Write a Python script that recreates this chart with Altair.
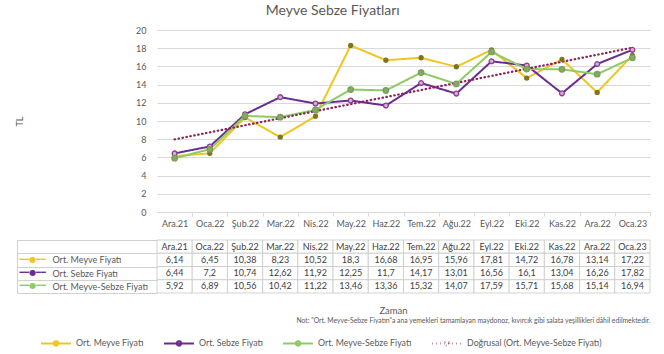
import json
import altair as alt
import pandas as pd

# ---------------- data ----------------
months = ["Ara.21", "Oca.22", "Şub.22", "Mar.22", "Nis.22", "May.22", "Haz.22",
          "Tem.22", "Ağu.22", "Eyl.22", "Eki.22", "Kas.22", "Ara.22", "Oca.23"]
series_names = ["Ort. Meyve Fiyatı", "Ort. Sebze Fiyatı", "Ort. Meyve-Sebze Fiyatı"]
trend_name = "Doğrusal (Ort. Meyve-Sebze Fiyatı)"
meyve = [6.14, 6.45, 10.38, 8.23, 10.52, 18.3, 16.68, 16.95, 15.96, 17.81, 14.72, 16.78, 13.14, 17.22]
sebze = [6.44, 7.2, 10.74, 12.62, 11.92, 12.25, 11.7, 14.17, 13.01, 16.56, 16.1, 13.04, 16.26, 17.82]
meyve_sebze = [5.92, 6.89, 10.56, 10.42, 11.22, 13.46, 13.36, 15.32, 14.07, 17.59, 15.71, 15.68, 15.14, 16.94]
y_ticks = list(range(0, 21, 2))

title_text = "Meyve Sebze Fiyatları"
x_title = "Zaman"
y_title = "TL"
note_text = ('Not: "Ort. Meyve-Sebze Fiyatın"a ana yemekleri tamamlayan maydonoz, '
             'kıvırcık gibi salata yeşillikleri dâhil edilmektedir.')

# ---------------- styles ----------------
FONT = "Lato"
TXT = "#595959"
line_colors = ["#F0C61E", "#6A2C91", "#8DCB63"]
trend_color = "#8E2157"
marker_fill = ["#7F7420", "#D9AEDA", "#86A868"]
marker_stroke = ["#7F7420", "#8A3F8F", "#78A058"]
marker_size = [16, 30, 16]
PLOT_W = 493
HALF_BAND = PLOT_W / len(months) / 2

rows = []
for s, vals in zip(series_names, [meyve, sebze, meyve_sebze]):
    for i, v in enumerate(vals):
        rows.append({"series": s, "idx": i, "value": v,
                     "text": f"{v:g}".replace(".", ",")})
df = pd.DataFrame(rows)

hdr = pd.DataFrame({"series": "hdr", "idx": list(range(len(months))), "text": months})
table_df = pd.concat([hdr, df[["series", "idx", "text"]]], ignore_index=True)
row_domain = ["hdr"] + series_names

all_series = series_names + [trend_name]
x_scale = alt.Scale(domain=[-0.5, len(months) - 0.5], nice=False, zero=False)
y_scale = alt.Scale(domain=[0, 20], nice=False)
color_scale = alt.Scale(domain=all_series, range=line_colors + [trend_color])
dash_scale = alt.Scale(domain=all_series, range=[[1, 0], [1, 0], [1, 0], [0.5, 3.5]])

sym_path = "M-1,0L1,0M0.15,0A0.15,0.15,0,1,1,-0.15,0A0.15,0.15,0,1,1,0.15,0"
legend = alt.Legend(title=None, orient="none", direction="horizontal",
                    legendX=-117, legendY=297, symbolType=sym_path, symbolSize=900,
                    symbolStrokeWidth=2, labelFontSize=8.8, labelColor=TXT,
                    labelFont=FONT, columnPadding=16, labelOffset=4)

x_axis = alt.Axis(values=list(range(len(months))),
                  labelExpr=json.dumps(months, ensure_ascii=False) + "[datum.value]",
                  grid=False, ticks=True, tickSize=4, tickColor="#D9D9D9",
                  tickOffset=HALF_BAND, labelOffset=-HALF_BAND,
                  domainColor="#D9D9D9", labelFontSize=9,
                  labelColor=TXT, labelFont=FONT, labelPadding=3, title=None,
                  labelAngle=0, labelOverlap=False, labelFlush=False)
y_axis = alt.Axis(values=y_ticks, grid=True, gridColor="#D9D9D9", domain=False,
                  ticks=False, labelPadding=11, labelFontSize=9, labelColor=TXT,
                  labelFont=FONT, title=y_title, titleX=-133, titleFontSize=9,
                  titleFontWeight="normal", titleColor=TXT, titleFont=FONT)

base = alt.Chart(df)
X = alt.X("idx:Q", scale=x_scale, axis=x_axis)
Y = alt.Y("value:Q", scale=y_scale, axis=y_axis)

lines = base.mark_line(strokeWidth=2).encode(
    x=X, y=Y,
    color=alt.Color("series:N", scale=color_scale, legend=legend),
    strokeDash=alt.StrokeDash("series:N", scale=dash_scale, legend=legend),
)

trend = (
    alt.Chart(df)
    .transform_filter(alt.datum.series == series_names[2])
    .transform_regression("idx", "value", method="linear", extent=[0, len(months) - 1])
    .transform_calculate(series=json.dumps(trend_name, ensure_ascii=False))
    .mark_line(strokeWidth=2.2, strokeCap="round")
    .encode(
        x=X, y=Y,
        color=alt.Color("series:N", scale=color_scale, legend=legend),
        strokeDash=alt.StrokeDash("series:N", scale=dash_scale, legend=legend),
    )
)

points = base.mark_point(shape="circle", filled=True, opacity=1, strokeWidth=1.3).encode(
    x=X, y=Y,
    fill=alt.Fill("series:N", scale=alt.Scale(domain=series_names, range=marker_fill), legend=None),
    stroke=alt.Stroke("series:N", scale=alt.Scale(domain=series_names, range=marker_stroke), legend=None),
    size=alt.Size("series:N", scale=alt.Scale(domain=series_names, range=marker_size), legend=None),
)

top = alt.layer(lines, trend, points).properties(width=PLOT_W, height=182)

# ---------------- data table ----------------
row_scale = alt.Scale(domain=row_domain, paddingInner=0, paddingOuter=0)
zaman_axis = alt.Axis(orient="bottom", labels=False, ticks=False, domain=False, grid=False,
                      title=x_title, titleFontSize=9.5, titleFontWeight="normal",
                      titleColor=TXT, titleFont=FONT, titlePadding=12, titleX=236)
names_axis = alt.Axis(orient="left", title=None, domain=False, ticks=True, tickSize=140,
                      tickBand="extent", tickColor="#D0D0D0",
                      labelExpr="datum.value == 'hdr' ? '' : datum.value",
                      labelAlign="left", labelPadding=-35, labelFontSize=9,
                      labelColor=TXT, labelFont=FONT, grid=False)
glyph_axis = alt.Axis(orient="left", offset=140, title=None, domain=True,
                      domainColor="#D0D0D0", ticks=False, tickSize=0, grid=False,
                      labelExpr="datum.value == 'hdr' ? '' : '\u2501\u2501\u25cf\u2501\u2501'",
                      labelAlign="left", labelPadding=-2, labelFontSize=8,
                      labelFont="DejaVu Sans",
                      labelColor={"condition": [
                          {"test": "datum.value == " + json.dumps(series_names[0], ensure_ascii=False), "value": line_colors[0]},
                          {"test": "datum.value == " + json.dumps(series_names[1], ensure_ascii=False), "value": line_colors[1]}],
                          "value": line_colors[2]})

tb = alt.Chart(table_df)
cells = tb.transform_calculate(x0="datum.idx - 0.5", x1="datum.idx + 0.5").mark_rect(
    fill="white", stroke="#C8C8C8", strokeWidth=0.8
).encode(
    x=alt.X("x0:Q", scale=x_scale, axis=zaman_axis),
    x2="x1:Q",
    y=alt.Y("series:N", scale=row_scale, axis=names_axis),
)
texts = tb.mark_text(fontSize=9, color="#404040", font=FONT).encode(
    x=alt.X("idx:Q", scale=x_scale, axis=zaman_axis),
    y=alt.Y("series:N", scale=row_scale, axis=glyph_axis),
    text="text:N",
)
table = alt.layer(cells, texts).resolve_axis(y="independent").properties(
    width=PLOT_W, height=53,
    title=alt.TitleParams(text=note_text, orient="bottom", anchor="end", fontSize=6.8,
                          font=FONT, color=TXT, fontWeight="normal", offset=3),
)

chart = (
    alt.vconcat(top, table, spacing=8)
    .resolve_scale(color="shared", strokeDash="shared")
    .properties(
        title=alt.TitleParams(title_text, fontSize=14, font=FONT, color=TXT,
                              fontWeight="normal", anchor="middle", offset=8),
        padding={"left": 15, "top": 4, "right": 8, "bottom": 4},
        background="white",
    )
    .configure_view(stroke=None)
)

chart.save("out.html", embed_options={"renderer": "svg", "actions": False})
